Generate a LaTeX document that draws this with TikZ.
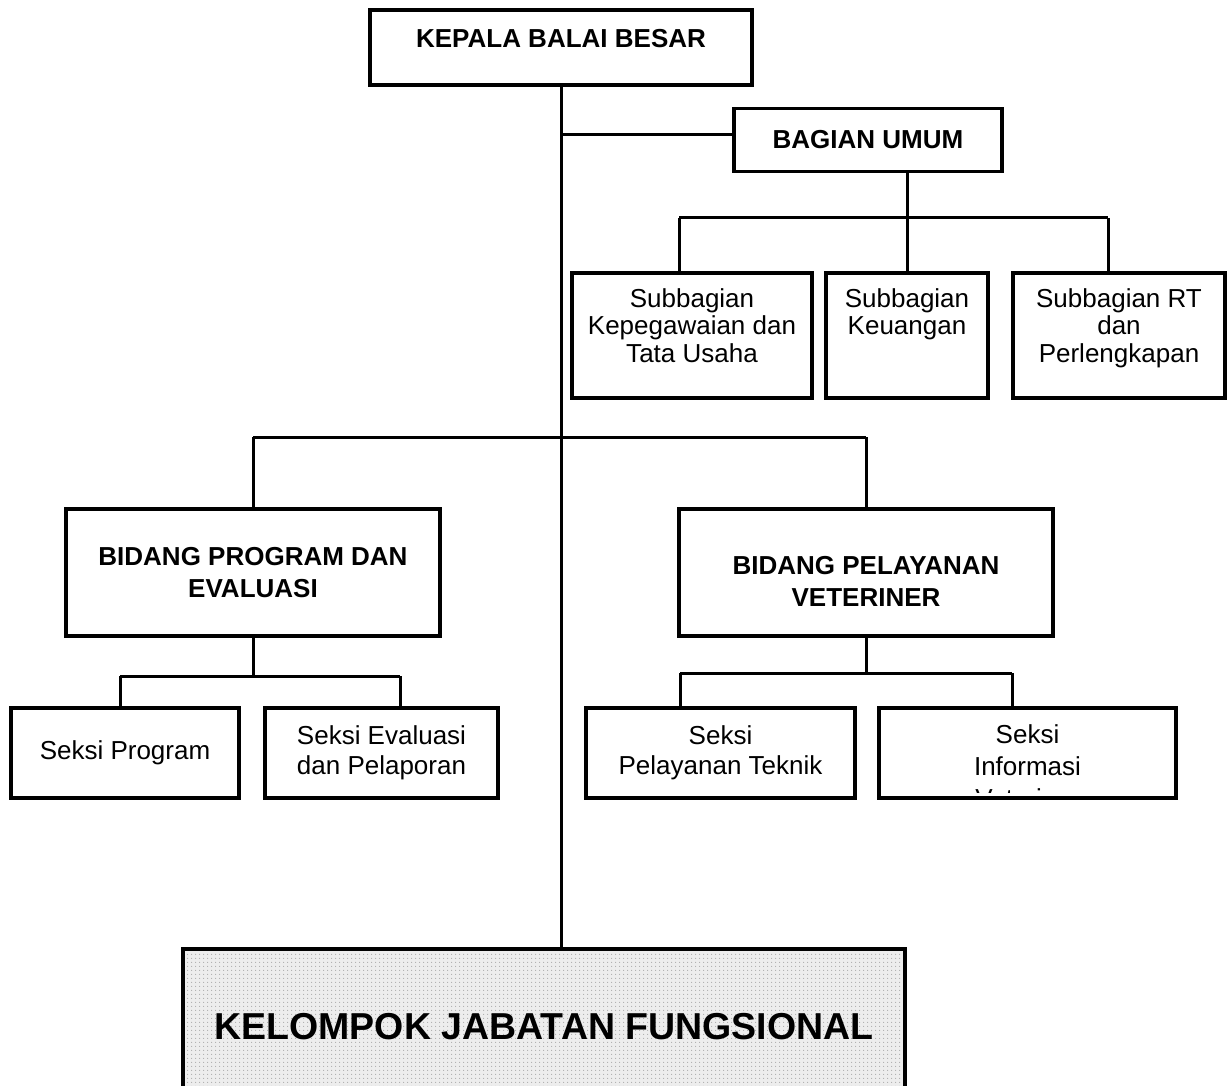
\documentclass[tikz,border=0pt]{standalone}
\usepackage{fontspec}
\setmainfont{Liberation Sans}
\usetikzlibrary{patterns.meta}

\begin{document}
\begin{tikzpicture}[x=1pt, y=-1pt,
  unitbox/.style={rectangle, draw, line width=3.5pt, inner sep=0pt, align=center},
  boldtext/.style={font=\fontsize{26}{32}\selectfont\bfseries},
  plaintext/.style={font=\fontsize{26}{30}\selectfont},
  subtext/.style={font=\fontsize{26}{27.5}\selectfont},
  intext/.style={anchor=north, align=center, inner sep=0pt},
  link/.style={line width=3pt}]

\useasboundingbox (0,0) rectangle (1231,1086);

% top level
\node[unitbox, minimum width=382pt, minimum height=75pt,
  label={[intext, boldtext, yshift=-21pt]north:KEPALA BALAI BESAR}] (kepala) at (561,47.5) {};
\node[unitbox, boldtext, minimum width=268pt, minimum height=63pt] (bu) at (868,140) {BAGIAN UMUM};

% subbagian
\node[unitbox, minimum width=240pt, minimum height=125pt,
  label={[intext, subtext, yshift=-17pt]north:Subbagian\\Kepegawaian dan\\Tata Usaha}] (sub1) at (692,335.5) {};
\node[unitbox, minimum width=162pt, minimum height=125pt,
  label={[intext, subtext, yshift=-17pt]north:Subbagian\\Keuangan}] (sub2) at (907,335.5) {};
\node[unitbox, minimum width=212pt, minimum height=125pt,
  label={[intext, subtext, yshift=-17pt]north:Subbagian RT\\dan\\Perlengkapan}] (sub3) at (1119,335.5) {};

% bidang
\node[unitbox, boldtext, minimum width=374pt, minimum height=127pt] (bpe) at (253,572.5) {BIDANG PROGRAM DAN\\EVALUASI};
\node[unitbox, minimum width=374pt, minimum height=127pt,
  label={[intext, boldtext, yshift=-49pt]north:BIDANG PELAYANAN\\VETERINER}] (bpv) at (866,572.5) {};

% seksi
\node[unitbox, plaintext, minimum width=228pt, minimum height=90pt] (sp) at (125,753) {Seksi Program};
\node[unitbox, plaintext, minimum width=233pt, minimum height=90pt] (se) at (381.5,753) {Seksi Evaluasi\\dan Pelaporan};
\node[unitbox, plaintext, minimum width=269pt, minimum height=90pt] (spt) at (720.5,753) {Seksi\\Pelayanan Teknik};
\node[unitbox, minimum width=297pt, minimum height=90pt] (sinf) at (1027.5,753) {};
\begin{scope}
  \clip ([yshift=-4pt]sinf.north west) rectangle (1176,792.5);
  \node[intext, font=\fontsize{26}{32}\selectfont, below=18pt] (sinftext) at (sinf.north) {Seksi\\Informasi\\Veteriner};
\end{scope}

% kelompok jabatan fungsional
\node[unitbox, minimum width=722pt, minimum height=156pt,
  preaction={fill=gray!14}, pattern={Dots[distance=4pt, radius=0.7pt]}, pattern color=gray!65,
  font=\fontsize{37.5}{42}\selectfont\bfseries] (kjf) at (544,1027) {KELOMPOK JABATAN FUNGSIONAL};

% junctions
\coordinate (jbu) at (561,135);
\coordinate (busUl) at (679,218);
\coordinate (busUr) at (1108,218);
\coordinate (busMl) at (253,437);
\coordinate (busMr) at (866,437);
\coordinate (busPl) at (120,676);
\coordinate (busPr) at (400,676);
\coordinate (busVl) at (680,673);
\coordinate (busVr) at (1012,673);

% connectors
\draw[link] (kepala.south) -- (kepala.south |- kjf.north);
\draw[link] (jbu) -- (jbu -| bu.west);
\draw[link] (sub2.north) -- (sub2.north |- bu.south);
\draw[link] (busUl) -- (busUr);
\draw[link] (busUl) -- (busUl |- sub1.north);
\draw[link] (busUr) -- (busUr |- sub3.north);
\draw[link] (busMl) -- (busMr);
\draw[link] (busMl) -- (bpe.north);
\draw[link] (busMr) -- (bpv.north);
\draw[link] (bpe.south) -- (bpe.south |- busPl);
\draw[link] (busPl) -- (busPr);
\draw[link] (busPl) -- (busPl |- sp.north);
\draw[link] (busPr) -- (busPr |- se.north);
\draw[link] (bpv.south) -- (bpv.south |- busVl);
\draw[link] (busVl) -- (busVr);
\draw[link] (busVl) -- (busVl |- spt.north);
\draw[link] (busVr) -- (busVr |- sinf.north);

\end{tikzpicture}
\end{document}
